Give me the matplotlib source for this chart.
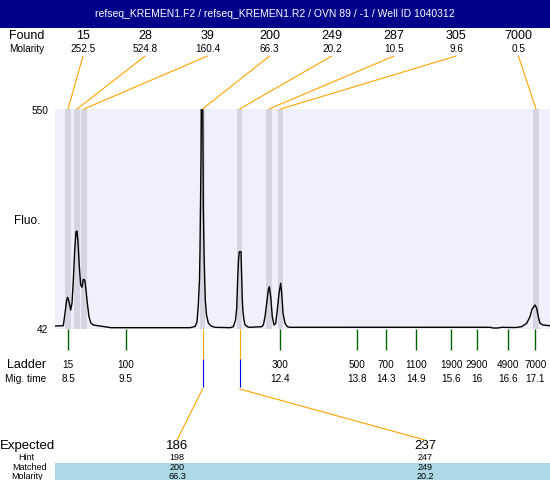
import numpy as np
import matplotlib
matplotlib.use("Agg")
import matplotlib.pyplot as plt
from matplotlib.patches import Rectangle, ConnectionPatch

plt.rcParams['font.family'] = ['Liberation Sans', 'DejaVu Sans']

title = "refseq_KREMEN1.F2 / refseq_KREMEN1.R2 / OVN 89 / -1 / Well ID 1040312"

# found peaks (size, molarity, migration time)
found_size = ["15", "28", "39", "200", "249", "287", "305", "7000"]
found_molarity = ["252.5", "524.8", "160.4", "66.3", "20.2", "10.5", "9.6", "0.5"]
found_time = [8.476, 8.642, 8.771, 10.958, 11.641, 12.185, 12.397, 17.111]

# ladder
ladder_size = ["15", "100", "300", "500", "700", "1100", "1900", "2900", "4900", "7000"]
ladder_time = [8.48, 9.54, 12.38, 13.8, 14.34, 14.9, 15.55, 16.02, 16.6, 17.1]
ladder_mig = ["8.5", "9.5", "12.4", "13.8", "14.3", "14.9", "15.6", "16", "16.6", "17.1"]

# expected / matched
expected = ["186", "237"]
hint = ["198", "247"]
matched = ["200", "249"]
matched_molarity = ["66.3", "20.2"]
matched_time = [10.958, 11.641]

# electropherogram trace (migration time, fluorescence)
trace_t = [8.236, 8.389, 8.421, 8.452, 8.470, 8.494, 8.526, 8.550, 8.574, 8.600,
           8.624, 8.642, 8.661, 8.685, 8.710, 8.734, 8.758, 8.784, 8.808, 8.832,
           8.863, 8.895, 8.943, 9.066, 9.269,
           10.727, 10.819, 10.856, 10.880, 10.902, 10.911, 10.930, 10.939, 10.958, 10.972,
           10.985, 10.998, 11.009, 11.031, 11.065, 11.114, 11.188, 11.466,
           11.526, 11.567, 11.589, 11.600, 11.607, 11.622, 11.637, 11.668, 11.674, 11.681,
           11.692, 11.705, 11.723, 11.742, 11.797, 11.834,
           12.050, 12.080, 12.111, 12.142, 12.172, 12.190, 12.216, 12.245, 12.277, 12.308,
           12.338, 12.369, 12.400, 12.419, 12.443, 12.480, 12.522, 12.572,
           16.262, 16.317, 16.410, 16.483, 16.631, 16.742, 16.847, 16.939, 17.000, 17.036,
           17.093, 17.124, 17.153, 17.185, 17.240, 17.369]
trace_f = [48.9, 49.6, 78.9, 109.0, 115.2, 105.0, 85.9, 102.0, 155.1, 224.4,
           266.7, 268.3, 240.6, 185.9, 143.6, 138.3, 156.8, 155.1, 132.1, 102.0,
           70.4, 56.5, 51.2, 48.9, 45.0,
           45.0, 47.8, 58.2, 97.4, 155.1, 222.1, 432.2, 600, 660, 328.3,
           222.1, 155.1, 109.0, 74.3, 55.9, 48.9, 45.9, 45.0,
           47.3, 62.8, 90.5, 132.1, 159.8, 201.3, 220.5, 220.5, 189.8, 159.8,
           109.0, 81.3, 62.8, 51.2, 46.6, 45.9,
           47.3, 51.2, 70.4, 101.3, 132.1, 139.7, 116.6, 70.4, 51.2, 55.2,
           85.9, 124.4, 147.5, 124.4, 78.3, 55.2, 47.3, 45.9,
           46, 44.3, 44.3, 46, 45.5, 45.5, 47.3, 55.2, 70.4, 87.5,
           97.4, 89.8, 70.4, 55.2, 51.2, 49.6]

fig = plt.figure(figsize=(5.5, 4.8), dpi=100)

# background axes in pixel coordinates for the text layout
bg = fig.add_axes([0, 0, 1, 1])
bg.set_xlim(0, 550)
bg.set_ylim(480, 0)
bg.axis('off')

bg.add_patch(Rectangle((0, 0), 550, 28, color='#00008b', lw=0))
bg.text(275, 14, title, color='white', fontsize=7.5, ha='center', va='center')

# main plot
ax = fig.add_axes([55 / 550, (480 - 329) / 480, 495 / 550, 220 / 480])
ax.set_facecolor('#f0f0fd')
ax.set_xlim(8.236, 17.369)
ax.set_ylim(42, 550)
for s in ax.spines.values():
    s.set_visible(False)
ax.set_xticks([])
ax.set_yticks([])

for t in found_time:
    ax.axvspan(t - 0.053, t + 0.053, color='#d4d4e2', lw=0, zorder=1)
ax.plot(trace_t, trace_f, color='black', lw=1.0, zorder=3)

bg.text(48, 111, "550", fontsize=7.3, ha='right', va='center')
bg.text(48, 330, "42", fontsize=7.3, ha='right', va='center')
bg.text(27, 221, "Fluo.", fontsize=8.5, ha='center', va='center')

# found row
bg.text(27, 36, "Found", fontsize=9, ha='center', va='center')
bg.text(27, 49, "Molarity", fontsize=7.2, ha='center', va='center')
for i in range(len(found_size)):
    lx = 83 + 62.2 * i
    bg.text(lx, 36, found_size[i], fontsize=9, ha='center', va='center')
    bg.text(lx, 49, found_molarity[i], fontsize=7.2, ha='center', va='center')
    con = ConnectionPatch(xyA=(lx, 56), coordsA=bg.transData,
                          xyB=(found_time[i], 550), coordsB=ax.transData,
                          color='orange', lw=0.8)
    fig.add_artist(con)

# ladder row
xt = ax.get_xaxis_transform()
ax.vlines(ladder_time, -21 / 220, 0, transform=xt, colors='#006400', lw=1.0, clip_on=False)
bg.text(27, 365.5, "Ladder", fontsize=9, ha='center', va='center')
bg.text(26, 379.5, "Mig. time", fontsize=7.3, ha='center', va='center')
for i in range(len(ladder_size)):
    ax.text(ladder_time[i], (329 - 365.5) / 220, ladder_size[i], transform=xt,
            fontsize=7.2, ha='center', va='center')
    ax.text(ladder_time[i], (329 - 379.5) / 220, ladder_mig[i], transform=xt,
            fontsize=7.2, ha='center', va='center')

# expected block
bg.add_patch(Rectangle((55, 462.5), 495, 18, color='#add8e6', lw=0))
bg.text(27.5, 446, "Expected", fontsize=9.5, ha='center', va='center')
bg.text(26, 458, "Hint", fontsize=6.5, ha='center', va='center')
bg.text(30, 467.5, "Matched", fontsize=6.5, ha='center', va='center')
bg.text(27, 476.5, "Molarity", fontsize=6.5, ha='center', va='center')
expected_x = [177, 425]
for i in range(len(expected)):
    t = matched_time[i]
    ax.vlines(t, -30 / 220, 0, transform=xt, colors='orange', lw=0.8, clip_on=False)
    ax.vlines(t, -58 / 220, -30 / 220, transform=xt, colors='blue', lw=0.8, clip_on=False)
    con = ConnectionPatch(xyA=(t, -60 / 220), coordsA=xt,
                          xyB=(expected_x[i], 440), coordsB=bg.transData,
                          color='orange', lw=0.8)
    fig.add_artist(con)
    bg.text(expected_x[i], 446, expected[i], fontsize=9.5, ha='center', va='center')
    bg.text(expected_x[i], 458, hint[i], fontsize=6.5, ha='center', va='center')
    bg.text(expected_x[i], 467.5, matched[i], fontsize=6.5, ha='center', va='center')
    bg.text(expected_x[i], 476.5, matched_molarity[i], fontsize=6.5, ha='center', va='center')

fig.savefig("out.png", dpi=100)
